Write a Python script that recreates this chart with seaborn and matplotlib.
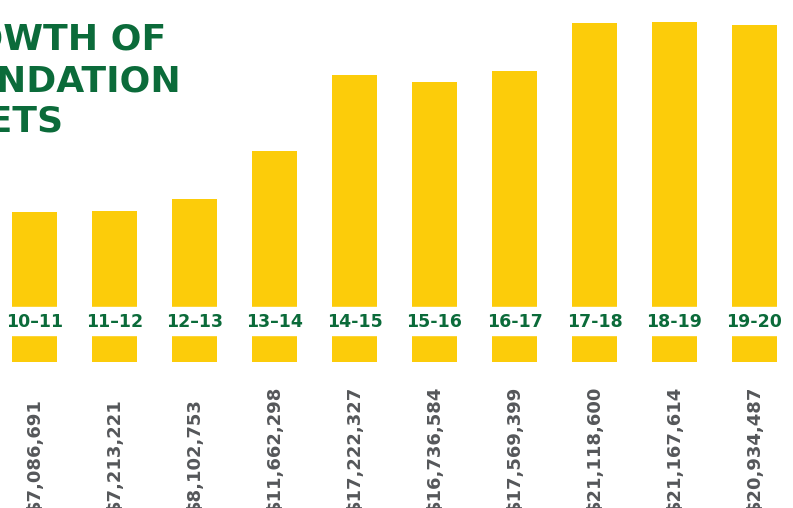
import matplotlib
matplotlib.use("Agg")
import matplotlib.pyplot as plt
import seaborn as sns
import pandas as pd

# fiscal years and foundation assets (USD)
years = ["10–11", "11–12", "12–13", "13–14", "14-15",
         "15-16", "16-17", "17-18", "18-19", "19-20"]
assets = [7086691, 7213221, 8102753, 11662298, 17222327,
          16736584, 17569399, 21118600, 21167614, 20934487]
title_lines = ["GROWTH OF", "FOUNDATION", "ASSETS"]

YELLOW = "#fccc0a"
GREEN = "#0b6b3a"
GRAY = "#55575a"

W, H = 793, 508
BASE = -4.0e6          # bars run on below zero, through the label gap
PX = 13.5 / 1e6        # pixels per dollar


def ypx(p):
    # pixel row (from the top) -> data value
    return BASE + (362 - p) / PX


def main():
    df = pd.DataFrame({"year": years, "assets": assets})

    fig = plt.figure(figsize=(W / 100, H / 100), dpi=100)
    ax = fig.add_axes([0, 0, 1, 1])

    sns.barplot(data=df, x="year", y="assets", color=YELLOW, saturation=1,
                width=0.56, linewidth=0, ax=ax)
    # extend every bar down to the common base under the gap
    for p in ax.patches:
        top = p.get_y() + p.get_height()
        p.set_y(BASE)
        p.set_height(top - BASE)

    ax.set_xlim((0 - 34.5) / 80, (W - 34.5) / 80)
    ax.set_ylim(ypx(H), ypx(0))
    ax.axis("off")

    # white band cut through the bars, with the year labels in it
    ax.axhspan(ypx(335), ypx(307), color="white", zorder=3)
    for i, yr in enumerate(years):
        ax.text(i, ypx(322), yr, ha="center", va="center", color=GREEN,
                fontsize=12.5, fontweight="bold", zorder=4)

    # rotated dollar values under each bar (cut off at the bottom, as in the source)
    for i, v in enumerate(assets):
        ax.text(i, ypx(512), f"${v:,.0f}", rotation=90, ha="center",
                va="bottom", color=GRAY, fontsize=13, fontweight="bold",
                clip_on=False)

    # title, cropped at the left edge like the source
    rights = [166, 181, 64]
    baselines = [50, 92, 132]
    for line, r, b in zip(title_lines, rights, baselines):
        fig.text(r / W, 1 - b / H, line, ha="right", va="baseline",
                 color=GREEN, fontsize=26, fontweight="bold")

    fig.savefig("out.png", dpi=100)


if __name__ == "__main__":
    main()
